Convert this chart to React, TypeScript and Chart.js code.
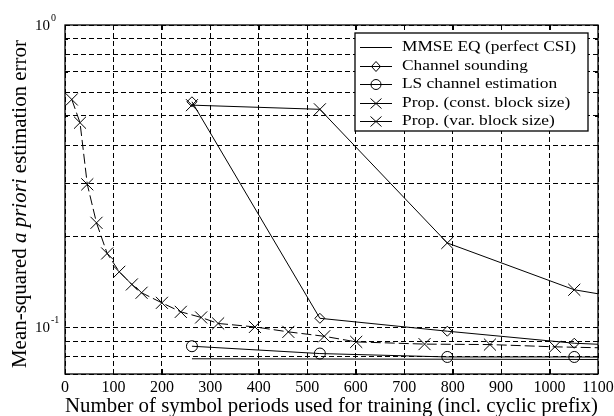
import React, { useEffect, useRef } from "react";
import { Chart, registerables } from "chart.js";
Chart.register(...registerables);

const X_TICKS = [0, 100, 200, 300, 400, 500, 600, 700, 800, 900, 1000, 1100];
const Y_GRID = [0.07, 0.08, 0.09, 0.1, 0.2, 0.3, 0.4, 0.5, 0.6, 0.7, 0.8, 0.9, 1];
const Y_LABEL_VALUES = [1, 0.1];
const Y_LABEL_EXPS = ["0", "-1"];

const LEGEND_LABELS = [
  "MMSE EQ (perfect CSI)",
  "Channel sounding",
  "LS channel estimation",
  "Prop. (const. block size)",
  "Prop. (var. block size)",
];
const X_TITLE = "Number of symbol periods used for training (incl. cyclic prefix)";

const mmseX = [262, 1100];
const mmseY = [0.0786, 0.0782];
const soundX = [262, 526, 789, 1051, 1100];
const soundY = [0.557, 0.107, 0.097, 0.0885, 0.0878];
const lsX = [262, 526, 789, 1051, 1100];
const lsY = [0.0865, 0.0818, 0.0797, 0.0797, 0.0796];
const constX = [262, 526, 789, 1051, 1100];
const constY = [0.543, 0.526, 0.19, 0.133, 0.129];
const varX = [14, 31, 46, 65, 87, 112, 138, 158, 200, 239, 281, 316, 392, 461, 535, 601, 742, 877, 1011, 1100];
const varY = [0.567, 0.475, 0.297, 0.2215, 0.1754, 0.1525, 0.1385, 0.13, 0.1204, 0.1124, 0.1077, 0.1029, 0.1002, 0.0965, 0.0933, 0.0894, 0.0879, 0.0876, 0.0861, 0.0855];

const FONT = '"Liberation Serif", "Times New Roman", serif';

const pts = (xs: number[], ys: number[]) => xs.map((x, i) => ({ x, y: ys[i] }));
const radii = (n: number, r: number, lastHidden: boolean) =>
  Array.from({ length: n }, (_, i) => (lastHidden && i === n - 1 ? 0 : r));

function drawMarker(ctx: CanvasRenderingContext2D, kind: string, x: number, y: number) {
  ctx.beginPath();
  if (kind === "diamond") {
    ctx.moveTo(x, y - 5);
    ctx.lineTo(x + 4.5, y);
    ctx.lineTo(x, y + 5);
    ctx.lineTo(x - 4.5, y);
    ctx.closePath();
  } else if (kind === "circle") {
    ctx.arc(x, y, 5, 0, Math.PI * 2);
  } else if (kind === "x") {
    ctx.moveTo(x - 5.5, y - 5);
    ctx.lineTo(x + 5.5, y + 5);
    ctx.moveTo(x - 5.5, y + 5);
    ctx.lineTo(x + 5.5, y - 5);
  }
  ctx.stroke();
}

const decorPlugin = {
  id: "decor",
  afterDraw(chart: any) {
    const ctx: CanvasRenderingContext2D = chart.ctx;
    const { left, right, top, bottom } = chart.chartArea;
    const xs = chart.scales.x;
    const ys = chart.scales.y;
    ctx.save();
    ctx.strokeStyle = "#000";
    ctx.fillStyle = "#000";
    // frame
    ctx.lineWidth = 1.3;
    ctx.setLineDash([]);
    ctx.strokeRect(left, top, right - left, bottom - top);
    // inner ticks
    ctx.lineWidth = 1;
    ctx.beginPath();
    X_TICKS.forEach((v) => {
      const px = Math.round(xs.getPixelForValue(v)) + 0.5;
      ctx.moveTo(px, bottom);
      ctx.lineTo(px, bottom - 5);
      ctx.moveTo(px, top);
      ctx.lineTo(px, top + 5);
    });
    Y_GRID.forEach((v) => {
      const py = Math.round(ys.getPixelForValue(v)) + 0.5;
      const len = Y_LABEL_VALUES.includes(v) ? 5 : 3;
      ctx.moveTo(left, py);
      ctx.lineTo(left + len, py);
      ctx.moveTo(right, py);
      ctx.lineTo(right - len, py);
    });
    ctx.stroke();
    // x tick labels
    ctx.font = `16px ${FONT}`;
    ctx.textAlign = "center";
    ctx.textBaseline = "alphabetic";
    X_TICKS.forEach((v) => {
      ctx.fillText(String(v), xs.getPixelForValue(v), 392);
    });
    // y tick labels
    Y_LABEL_VALUES.forEach((v, i) => {
      const py = ys.getPixelForValue(v);
      ctx.font = `15px ${FONT}`;
      ctx.textAlign = "right";
      ctx.fillText("10", 50, py + 5);
      ctx.font = `10px ${FONT}`;
      ctx.textAlign = "left";
      ctx.fillText(Y_LABEL_EXPS[i], 51, py - 4);
    });
    // x title, stretched to span 65..598
    ctx.font = `20px ${FONT}`;
    ctx.textAlign = "left";
    const xw = ctx.measureText(X_TITLE).width;
    ctx.save();
    ctx.translate(65, 412);
    ctx.scale(533 / xw, 1);
    ctx.fillText(X_TITLE, 0, 0);
    ctx.restore();
    // y title (mixed style), spanning y 40..368
    const parts = [
      { t: "Mean-squared ", f: `20px ${FONT}` },
      { t: "a priori", f: `italic 20px ${FONT}` },
      { t: " estimation error", f: `20px ${FONT}` },
    ];
    let total = 0;
    parts.forEach((p) => {
      ctx.font = p.f;
      total += ctx.measureText(p.t).width;
    });
    ctx.save();
    ctx.translate(26, 368);
    ctx.rotate(-Math.PI / 2);
    ctx.scale(328 / total, 1);
    ctx.textAlign = "left";
    let cx = 0;
    parts.forEach((p) => {
      ctx.font = p.f;
      ctx.fillText(p.t, cx, 0);
      cx += ctx.measureText(p.t).width;
    });
    ctx.restore();
    // legend
    const lx = 355, ly = 33, lw = 233, lh = 98;
    ctx.fillStyle = "#fff";
    ctx.fillRect(lx, ly, lw, lh);
    ctx.fillStyle = "#000";
    ctx.lineWidth = 1.3;
    ctx.strokeRect(lx, ly, lw, lh);
    ctx.lineWidth = 1;
    const kinds = ["none", "diamond", "circle", "x", "x"];
    ctx.font = `15.5px ${FONT}`;
    ctx.textAlign = "left";
    ctx.textBaseline = "middle";
    const lscale = 174 / ctx.measureText(LEGEND_LABELS[0]).width;
    LEGEND_LABELS.forEach((lab, i) => {
      const ry = ly + 14 + i * 18.6;
      ctx.beginPath();
      ctx.moveTo(360, Math.round(ry) + 0.5);
      ctx.lineTo(392, Math.round(ry) + 0.5);
      ctx.stroke();
      if (kinds[i] !== "none") drawMarker(ctx, kinds[i], 376, Math.round(ry) + 0.5);
      ctx.save();
      ctx.translate(402, ry);
      ctx.scale(lscale, 1);
      ctx.fillText(lab, 0, 0);
      ctx.restore();
    });
    ctx.restore();
  },
};

export default function App() {
  const ref = useRef<HTMLCanvasElement | null>(null);
  useEffect(() => {
    if (!ref.current) return;
    const common = {
      borderColor: "#000",
      borderWidth: 1,
      pointBorderColor: "#000",
      pointBackgroundColor: "rgba(0,0,0,0)",
      pointBorderWidth: 1,
      fill: false,
      tension: 0,
    };
    const chart = new Chart(ref.current, {
      type: "line",
      data: {
        datasets: [
          { ...common, label: LEGEND_LABELS[0], data: pts(mmseX, mmseY), pointRadius: 0 },
          { ...common, label: LEGEND_LABELS[1], data: pts(soundX, soundY), pointStyle: "rectRot", pointRadius: radii(soundX.length, 5, true) },
          { ...common, label: LEGEND_LABELS[2], data: pts(lsX, lsY), pointStyle: "circle", pointRadius: radii(lsX.length, 5.5, true) },
          { ...common, label: LEGEND_LABELS[3], data: pts(constX, constY), pointStyle: "crossRot", pointRadius: radii(constX.length, 8.5, true) },
          { ...common, label: LEGEND_LABELS[4], data: pts(varX, varY), pointStyle: "crossRot", borderDash: [10, 4], pointRadius: radii(varX.length, 8.5, true) },
        ],
      },
      options: {
        animation: false,
        responsive: false,
        devicePixelRatio: 1,
        layout: { padding: { left: 65, top: 25, right: 16, bottom: 42 } },
        plugins: { legend: { display: false }, tooltip: { enabled: false } },
        scales: {
          x: {
            type: "linear",
            min: 0,
            max: 1100,
            afterBuildTicks: (s: any) => {
              s.ticks = X_TICKS.map((v) => ({ value: v }));
            },
            ticks: { display: false },
            grid: { color: "#000", lineWidth: 1, drawTicks: false },
            border: { display: false, dash: [5, 3] },
          },
          y: {
            type: "logarithmic",
            min: 0.07,
            max: 1,
            afterBuildTicks: (s: any) => {
              s.ticks = Y_GRID.map((v) => ({ value: v }));
            },
            ticks: { display: false },
            grid: { color: "#000", lineWidth: 1, drawTicks: false },
            border: { display: false, dash: [5, 3] },
          },
        },
      },
      plugins: [decorPlugin],
    } as any);
    return () => chart.destroy();
  }, []);
  return (
    <div style={{ position: "fixed", left: 0, top: 0, width: 614, height: 416, background: "#fff" }}>
      <canvas ref={ref} width={614} height={416} />
    </div>
  );
}
